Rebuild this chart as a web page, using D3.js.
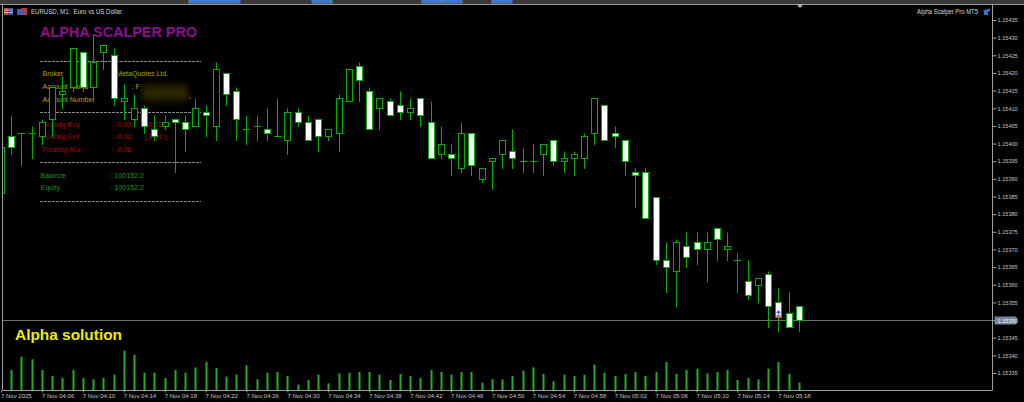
<!DOCTYPE html>
<html><head><meta charset="utf-8">
<script src="https://cdn.jsdelivr.net/npm/d3@7"></script>
<style>html,body{margin:0;padding:0;background:#000;overflow:hidden}</style>
</head><body><svg id="c" width="1024" height="402"></svg>
<script>
// ---------------- DATA ----------------
const times = [
 "04:02","04:03","04:04","04:05","04:06","04:07","04:08","04:09","04:10","04:11",
 "04:12","04:13","04:14","04:15","04:16","04:17","04:18","04:19","04:20","04:21",
 "04:22","04:23","04:24","04:25","04:26","04:27","04:28","04:29","04:30","04:31",
 "04:32","04:33","04:34","04:35","04:36","04:37","04:38","04:39","04:40","04:41",
 "04:42","04:43","04:44","04:45","04:46","04:47","04:48","04:49","04:50","04:51",
 "04:52","04:53","04:54","04:55","04:56","04:57","04:58","04:59","05:00","05:01",
 "05:02","05:03","05:04","05:05","05:06","05:07","05:08","05:09","05:10","05:11",
 "05:12","05:13","05:14","05:15","05:16","05:17","05:18","05:19","05:20"];
const openP = [
 1.15386,1.15402,1.15403,1.15403,1.15402,1.15407,1.15414,1.15416,1.15426,1.15416,
 1.15426,1.15425,1.15412,1.15407,1.15410,1.15404,1.15405,1.15407,1.15406,1.15405,
 1.15409,1.15405,1.15420,1.15415,1.15404,1.15405,1.15404,1.15402,1.15401,1.15409,
 1.15406,1.15407,1.15402,1.15403,1.15412,1.15422,1.15415,1.15410,1.15412,1.15411,
 1.15409,1.15413,1.15406,1.15397,1.15397,1.15393,1.15403,1.15390,1.15395,1.15397,
 1.15398,1.15395,1.15395,1.15397,1.15401,1.15395,1.15396,1.15396,1.15403,1.15411,
 1.15403,1.15401,1.15392,1.15392,1.15385,1.15367,1.15364,1.15371,1.15372,1.15370,
 1.15376,1.15370,1.15367,1.15361,1.15360,1.15363,1.15355,1.15352,1.15354];
const highP = [
 1.15400,1.15408,1.15403,1.15405,1.15407,1.15416,1.15419,1.15427,1.15426,1.15431,
 1.15428,1.15427,1.15417,1.15414,1.15411,1.15408,1.15408,1.15407,1.15408,1.15413,
 1.15411,1.15423,1.15420,1.15416,1.15408,1.15408,1.15410,1.15413,1.15410,1.15410,
 1.15408,1.15407,1.15404,1.15414,1.15421,1.15423,1.15416,1.15413,1.15413,1.15415,
 1.15413,1.15413,1.15412,1.15405,1.15400,1.15406,1.15403,1.15393,1.15396,1.15401,
 1.15404,1.15399,1.15400,1.15400,1.15401,1.15398,1.15398,1.15403,1.15413,1.15411,
 1.15405,1.15401,1.15393,1.15393,1.15385,1.15372,1.15373,1.15375,1.15375,1.15375,
 1.15376,1.15375,1.15369,1.15367,1.15362,1.15364,1.15359,1.15358,1.15354];
const lowP = [
 1.15385,1.15397,1.15394,1.15396,1.15400,1.15402,1.15410,1.15415,1.15415,1.15412,
 1.15421,1.15411,1.15407,1.15405,1.15403,1.15401,1.15404,1.15392,1.15398,1.15405,
 1.15402,1.15401,1.15411,1.15401,1.15400,1.15401,1.15401,1.15402,1.15397,1.15405,
 1.15401,1.15398,1.15401,1.15398,1.15412,1.15412,1.15404,1.15404,1.15408,1.15407,
 1.15407,1.15405,1.15396,1.15396,1.15391,1.15392,1.15391,1.15389,1.15387,1.15393,
 1.15393,1.15392,1.15392,1.15391,1.15394,1.15392,1.15391,1.15393,1.15400,1.15401,
 1.15399,1.15391,1.15382,1.15379,1.15366,1.15358,1.15354,1.15365,1.15366,1.15361,
 1.15367,1.15367,1.15358,1.15356,1.15355,1.15348,1.15347,1.15348,1.15347];
const closeP = [
 1.15399,1.15399,1.15403,1.15403,1.15406,1.15416,1.15415,1.15427,1.15416,1.15423,
 1.15428,1.15413,1.15413,1.15410,1.15405,1.15402,1.15406,1.15406,1.15404,1.15410,
 1.15408,1.15421,1.15414,1.15407,1.15404,1.15405,1.15403,1.15402,1.15409,1.15406,
 1.15401,1.15402,1.15404,1.15413,1.15421,1.15418,1.15404,1.15413,1.15408,1.15409,
 1.15410,1.15408,1.15396,1.15400,1.15396,1.15403,1.15394,1.15393,1.15396,1.15401,
 1.15396,1.15395,1.15395,1.15400,1.15395,1.15396,1.15397,1.15402,1.15413,1.15401,
 1.15402,1.15395,1.15391,1.15379,1.15367,1.15365,1.15372,1.15368,1.15370,1.15372,
 1.15373,1.15371,1.15367,1.15357,1.15362,1.15354,1.15351,1.15348,1.15350];
const volume = [
 28,30,50,46,30,21,18,30,18,16,
 18,23,59,53,26,26,18,30,26,34,
 42,33,20,23,37,16,26,27,21,8,
 15,23,10,25,26,27,27,23,15,24,
 21,18,30,27,23,27,27,11,16,16,
 21,29,34,24,13,23,21,23,38,26,
 21,24,27,21,27,42,24,30,32,25,
 27,30,15,18,16,32,42,24,11];
const priceTicks = [1.15435,1.15430,1.15425,1.15420,1.15415,1.15410,1.15405,1.15400,1.15395,1.15390,
 1.15385,1.15380,1.15375,1.15370,1.15365,1.15360,1.15355,1.15350,1.15345,1.15340,1.15335];
const timeTicks = ["04:02","04:06","04:10","04:14","04:18","04:22","04:26","04:30","04:34","04:38",
 "04:42","04:46","04:50","04:54","04:58","05:02","05:06","05:10","05:14","05:18"];
const timeTickLabels = ["7 Nov 2025","7 Nov 04:06","7 Nov 04:10","7 Nov 04:14","7 Nov 04:18","7 Nov 04:22",
 "7 Nov 04:26","7 Nov 04:30","7 Nov 04:34","7 Nov 04:38","7 Nov 04:42","7 Nov 04:46","7 Nov 04:50",
 "7 Nov 04:54","7 Nov 04:58","7 Nov 05:02","7 Nov 05:06","7 Nov 05:10","7 Nov 05:14","7 Nov 05:18"];
const bidPrice = 1.15350;
const tradeMarkTime = "05:18";
const symbolTitle = "EURUSD, M1:  Euro vs US Dollar";
const eaName = "Alpha Scalper Pro MT5";
const panelTitle = "ALPHA SCALPER PRO";
const infoLabels = ["Broker","Account Name","Account Number"];
const infoValues = [": MetaQuotes Ltd.", ": F"];
const floatLabels = ["Floating Buy","Floating Sell","Floating ALL"];
const floatValues = [": -0.03", ": -0.03", ": -0.06"];
const floatLots = ["( 0.01 )","( 0.01 )"];
const balLabels = ["Balance","Equity"];
const balValues = [": 100152.2", ": 100152.2"];
const footer = "Alpha solution";

// ---------------- DRAW ----------------
const FONT = "'Liberation Sans', Arial, sans-serif";
const svg = d3.select("#c");
svg.append("rect").attr("width",1024).attr("height",402).attr("fill","#000");

const defs = svg.append("defs");
defs.append("clipPath").attr("id","plot").append("rect")
  .attr("x",3).attr("y",5).attr("width",989).attr("height",385);
defs.append("filter").attr("id","blur").attr("x","-50%").attr("y","-50%").attr("width","200%").attr("height","200%")
  .append("feGaussianBlur").attr("stdDeviation",3.5);

// top toolbar strip
svg.append("rect").attr("x",0).attr("y",0).attr("width",1024).attr("height",4).attr("fill","#3a3a3a");
[[189,51],[312,20],[422,20],[443,19],[492,20]].forEach(([bx,bw])=>{
  svg.append("rect").attr("x",bx).attr("y",0).attr("width",bw).attr("height",3)
    .attr("fill","#2f6fc8").attr("stroke","#78a8e8").attr("stroke-width",0.6);
});
svg.append("line").attr("x1",0).attr("x2",1024).attr("y1",4.5).attr("y2",4.5).attr("stroke","#9a9a9a");
svg.append("path").attr("d","M797,5L803,5L800,8Z").attr("fill","#b0b0b0");

// scales
const x = d3.scaleBand().domain(times).range([-3.6, 804.4]).padding(0);
const bw = x.bandwidth();
const px = t => Math.floor(x(t) + bw/2) + 0.5;
const y = d3.scaleLinear().domain([1.15335, 1.15435]).range([373, 20]);
const sy = v => Math.round(y(v)) + 0.5;
const vy = d3.scaleLinear().domain([0, 60]).range([390, 350]);

// frame
const frame = svg.append("g").attr("stroke","#a0a0a0").attr("fill","none");
frame.append("path").attr("d","M2.5,4.5V390.5H992.5V4.5");

// header texts
svg.append("text").attr("x",31).attr("y",14).text(symbolTitle)
  .style("white-space","pre").attr("font-family",FONT).attr("font-size",6.5).attr("fill","#d8d8d8")
  .attr("textLength",91).attr("lengthAdjust","spacingAndGlyphs");
// icons
svg.append("rect").attr("x",4).attr("y",8).attr("width",4.5).attr("height",7).attr("fill","#c84040");
svg.append("rect").attr("x",8.5).attr("y",8).attr("width",4.5).attr("height",7).attr("fill","#3558b8");
[10,12.5].forEach(yy=>svg.append("line").attr("x1",4).attr("x2",13).attr("y1",yy).attr("y2",yy).attr("stroke","#e0e0e0").attr("stroke-width",0.7));
svg.append("rect").attr("x",17).attr("y",9).attr("width",5).attr("height",6).attr("fill","#3563c8");
svg.append("rect").attr("x",21).attr("y",8).attr("width",6).attr("height",7).attr("fill","#c83535");
svg.append("rect").attr("x",22.5).attr("y",10).attr("width",3).attr("height",3).attr("fill","#3563c8");

svg.append("text").attr("x",917).attr("y",14).text(eaName)
  .attr("font-family",FONT).attr("font-size",6.5).attr("fill","#d8d8d8")
  .attr("textLength",61).attr("lengthAdjust","spacingAndGlyphs");
svg.append("path").attr("d","M983,10.5L990,8.5L990,11L988,11.5L988,15L984,15L984,12Z").attr("fill","#2f78dd");

// ---- panel (behind candles) ----
const panel = svg.append("g").attr("font-family",FONT);
panel.append("text").attr("x",40).attr("y",37).text(panelTitle)
  .attr("font-weight","bold").attr("font-size",14.5).attr("fill","#8e0e8e")
  .attr("textLength",157).attr("lengthAdjust","spacingAndGlyphs");
[61.5,112.5,162.5,201.5].forEach(yy=>{
  panel.append("line").attr("x1",40).attr("x2",201).attr("y1",yy).attr("y2",yy)
    .attr("stroke","#8a8a8a").attr("stroke-dasharray","3,1");
});
const infoY = [75.6, 88.5, 101.5];
infoLabels.forEach((s,i)=>panel.append("text").attr("x",42.5).attr("y",infoY[i]).text(s)
  .attr("font-size",7).attr("fill","#aaa600"));
panel.append("text").attr("x",112.5).attr("y",infoY[0]).text(infoValues[0]).attr("font-size",7).attr("fill","#aaa600");
panel.append("text").attr("x",131.5).attr("y",infoY[1]).text(infoValues[1]).attr("font-size",7).attr("fill","#aaa600");
panel.append("rect").attr("x",142).attr("y",85).attr("width",46).attr("height",16)
  .attr("fill","#2c2800").attr("filter","url(#blur)");
panel.append("circle").attr("cx",190).attr("cy",98).attr("r",0.8).attr("fill","#d03030");

const floatY = [126.6, 139.3, 152.3];
floatLabels.forEach((s,i)=>{
  panel.append("text").attr("x",i===2?42.5:40.5).attr("y",floatY[i]).text(s).attr("font-size",7).attr("fill","#a80000");
  panel.append("text").attr("x",111).attr("y",floatY[i]).text(floatValues[i]).attr("font-size",7).attr("fill","#a80000");
});
floatLots.forEach((s,i)=>panel.append("text").attr("x",143.5+i).attr("y",floatY[i]).text(s)
  .style("white-space","pre").attr("font-size",7).attr("fill","#c00000"));
const balY = [177.6, 189.8];
balLabels.forEach((s,i)=>{
  panel.append("text").attr("x",40.5).attr("y",balY[i]).text(s).attr("font-size",7).attr("fill","#0c9c0c");
  panel.append("text").attr("x",110.7).attr("y",balY[i]).text(balValues[i]).attr("font-size",7).attr("fill","#0c9c0c");
});

// ---- plot ----
const plot = svg.append("g").attr("clip-path","url(#plot)");
// bid line
const by = sy(bidPrice);
plot.append("line").attr("x1",2.5).attr("x2",992.5).attr("y1",by).attr("y2",by).attr("stroke","#6e6e6e");

const data = times.map((t,i)=>({t, o:openP[i], h:highP[i], l:lowP[i], c:closeP[i], v:volume[i]}));

// volumes
plot.append("g").selectAll("rect").data(data).join("rect")
  .attr("x", d=>px(d.t)-1).attr("width",2)
  .attr("y", d=>vy(d.v)).attr("height", d=>390 - vy(d.v))
  .attr("fill","#22b022");

const GREEN = "#00b000";
const cg = plot.append("g");
cg.selectAll("line.wick").data(data).join("line").attr("class","wick")
  .attr("x1",d=>px(d.t)).attr("x2",d=>px(d.t))
  .attr("y1",d=>sy(d.h)).attr("y2",d=>sy(d.l)+0.5)
  .attr("stroke",GREEN).attr("stroke-width",1);
cg.selectAll("rect.body").data(data.filter(d=>d.o!==d.c)).join("rect").attr("class","body")
  .attr("x",d=>px(d.t)-3).attr("width",6)
  .attr("y",d=>sy(Math.max(d.o,d.c)))
  .attr("height",d=>Math.max(1, sy(Math.min(d.o,d.c)) - sy(Math.max(d.o,d.c))))
  .attr("fill",d=>d.c>d.o ? "#000" : "#ffffff")
  .attr("stroke",GREEN).attr("stroke-width",1);
cg.selectAll("line.doji").data(data.filter(d=>d.o===d.c)).join("line").attr("class","doji")
  .attr("x1",d=>px(d.t)-3.5).attr("x2",d=>px(d.t)+3.5)
  .attr("y1",d=>sy(d.o)).attr("y2",d=>sy(d.o))
  .attr("stroke",GREEN).attr("stroke-width",1);

// trade marks
const mx = px(tradeMarkTime);
plot.append("path").attr("d",`M${mx-2.5},313L${mx},310L${mx+2.5},313L${mx+0.8},313L${mx+0.8},314.5L${mx-0.8},314.5L${mx-0.8},313Z`).attr("fill","#2b6fe0");
plot.append("path").attr("d",`M${mx-2},315L${mx+2},315L${mx+2},317L${mx},318.5L${mx-2},317Z`).attr("fill","#e06050");

// footer text
svg.append("text").attr("x",15).attr("y",339.5).text(footer)
  .attr("font-family",FONT).attr("font-weight","bold").attr("font-size",15).attr("fill","#ecec00")
  .attr("textLength",107).attr("lengthAdjust","spacingAndGlyphs");

// ---- axes ----
const yAxis = svg.append("g").attr("transform","translate(992.5,0)")
  .call(d3.axisRight(y).tickValues(priceTicks).tickFormat(d3.format(".5f")).tickSize(4).tickPadding(1));
yAxis.select(".domain").remove();
yAxis.selectAll(".tick line").attr("stroke","#a0a0a0");
yAxis.selectAll(".tick text").attr("fill","#c4c4c4").attr("font-family",FONT).attr("font-size",5.6);

// bid label
svg.append("rect").attr("x",994.5).attr("y",by-4).attr("width",22).attr("height",8).attr("fill","#74879c");
svg.append("text").attr("x",997.5).attr("y",by+2).text(d3.format(".5f")(bidPrice))
  .attr("font-family",FONT).attr("font-size",5.6).attr("fill","#f0f4f8");

const xAxis = svg.append("g").attr("transform","translate(0,390.5)")
  .call(d3.axisBottom(x).tickValues(timeTicks).tickFormat((d,i)=>timeTickLabels[i]).tickSize(2).tickPadding(1));
xAxis.select(".domain").remove();
xAxis.selectAll(".tick line").attr("stroke","#a0a0a0");
xAxis.selectAll(".tick text").attr("fill","#c4c4c4").attr("font-family",FONT).attr("font-size",6)
  .attr("text-anchor","start").attr("x",-0.5);
</script></body></html>
